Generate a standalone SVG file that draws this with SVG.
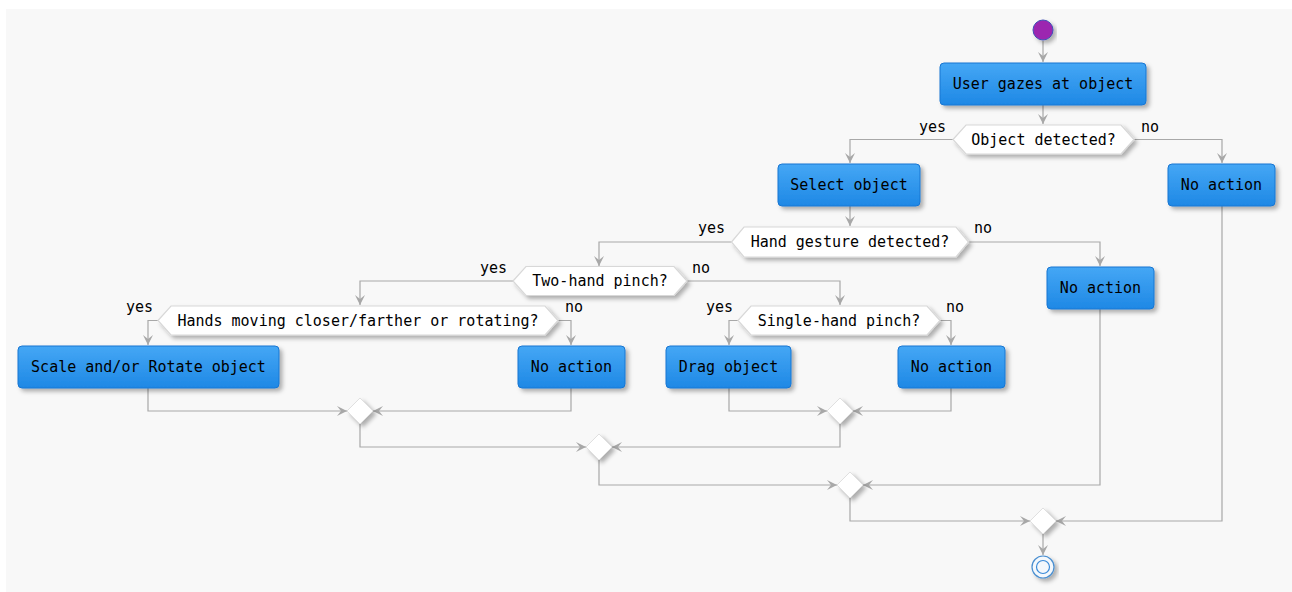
<svg xmlns="http://www.w3.org/2000/svg" width="1292" height="592" viewBox="0 0 1292 592">
<defs>
<linearGradient id="blue" x1="0" y1="0" x2="0" y2="1">
<stop offset="0" stop-color="#45A7F5"/>
<stop offset="1" stop-color="#1E88E5"/>
</linearGradient>
<filter id="sh" x="-20%" y="-30%" width="140%" height="170%">
<feDropShadow dx="3" dy="3" stdDeviation="2" flood-color="#000" flood-opacity="0.3"/>
</filter>
<marker id="arr" viewBox="0 0 10 10" refX="10" refY="5" markerWidth="10" markerHeight="10" markerUnits="userSpaceOnUse" orient="auto">
<path d="M0,0 L10,5 L0,10 L4,5 Z" fill="#A8A8A8"/>
</marker>
</defs>
<style>
.box{fill:url(#blue);stroke:#1976D2;stroke-width:1;filter:url(#sh)}
.hex{fill:#FFFFFF;stroke:#D8D8D8;stroke-width:1.2;filter:url(#sh)}
.merge{fill:#FFFFFF;stroke:#E0E0E0;stroke-width:1;filter:url(#sh)}
.t{font-family:"DejaVu Sans Mono","Liberation Mono",monospace;font-size:15px;fill:#000;text-anchor:middle}
.l{font-family:"DejaVu Sans Mono","Liberation Mono",monospace;font-size:15px;fill:#000}
.c{fill:none;stroke:#A8A8A8;stroke-width:1.2;marker-end:url(#arr)}
</style>
<rect x="6" y="9" width="1286" height="583" fill="#F8F8F8"/>

<g id="connectors">
<path class="c" d="M1043,41 V62"/>
<path class="c" d="M1043,105 V124"/>
<path class="c" d="M953,139.5 H850 V163"/>
<path class="c" d="M1134,139.5 H1222 V163"/>
<path class="c" d="M850,206 V226"/>
<path class="c" d="M731.5,242 H599 V266"/>
<path class="c" d="M968.5,242 H1100 V266"/>
<path class="c" d="M513,281 H360 V305"/>
<path class="c" d="M687,281 H840 V305"/>
<path class="c" d="M158,320.5 H148 V345"/>
<path class="c" d="M558,320.5 H571 V345"/>
<path class="c" d="M738,320.5 H729 V345"/>
<path class="c" d="M940,320.5 H951 V345"/>
<path class="c" d="M148,388 V411 H347"/>
<path class="c" d="M571,388 V411 H373"/>
<path class="c" d="M729,388 V411 H827"/>
<path class="c" d="M951,388 V411 H853"/>
<path class="c" d="M360,424 V447 H586"/>
<path class="c" d="M840,424 V447 H612"/>
<path class="c" d="M599,460 V485 H837"/>
<path class="c" d="M1100,309 V485 H863"/>
<path class="c" d="M850,498 V521 H1030"/>
<path class="c" d="M1222,206 V521 H1056"/>
<path class="c" d="M1043,534 V555"/>
<text class="l" x="946" y="132" text-anchor="end">yes</text>
<text class="l" x="1141" y="132">no</text>
<text class="l" x="725" y="233" text-anchor="end">yes</text>
<text class="l" x="974" y="233">no</text>
<text class="l" x="507" y="273" text-anchor="end">yes</text>
<text class="l" x="692" y="273">no</text>
<text class="l" x="153" y="312" text-anchor="end">yes</text>
<text class="l" x="565" y="312">no</text>
<text class="l" x="733" y="312" text-anchor="end">yes</text>
<text class="l" x="946" y="312">no</text>
</g>

<g id="start"><circle cx="1043" cy="30" r="10" fill="#9C27B0" stroke="#3F51B5" stroke-width="1" filter="url(#sh)"/></g>

<g id="n1"><rect class="box" x="940" y="63" width="206" height="42" rx="4"/><text class="t" x="1043" y="89">User gazes at object</text></g>
<g id="d1"><polygon class="hex" points="953,139.5 966,125 1121,125 1134,139.5 1121,154 966,154"/><text class="t" x="1043.5" y="144.5">Object detected?</text></g>
<g id="n2"><rect class="box" x="778" y="164" width="142" height="42" rx="4"/><text class="t" x="849" y="190">Select object</text></g>
<g id="n3"><rect class="box" x="1168" y="164" width="107" height="42" rx="4"/><text class="t" x="1221.5" y="190">No action</text></g>
<g id="d2"><polygon class="hex" points="731.5,242 744,227 956,227 968.5,242 956,257 744,257"/><text class="t" x="850" y="247">Hand gesture detected?</text></g>
<g id="n4"><rect class="box" x="1047" y="267" width="107" height="42" rx="4"/><text class="t" x="1100.5" y="293">No action</text></g>
<g id="d3"><polygon class="hex" points="513,281 526,266.5 674,266.5 687,281 674,295.5 526,295.5"/><text class="t" x="600" y="286">Two-hand pinch?</text></g>
<g id="d4"><polygon class="hex" points="158,320.5 171,306 545,306 558,320.5 545,335 171,335"/><text class="t" x="358" y="325.5">Hands moving closer/farther or rotating?</text></g>
<g id="d5"><polygon class="hex" points="738,320.5 751,306 927,306 940,320.5 927,335 751,335"/><text class="t" x="839" y="325.5">Single-hand pinch?</text></g>
<g id="n5"><rect class="box" x="18" y="346" width="261" height="42" rx="4"/><text class="t" x="148.5" y="372">Scale and/or Rotate object</text></g>
<g id="n6"><rect class="box" x="518" y="346" width="107" height="42" rx="4"/><text class="t" x="571.5" y="372">No action</text></g>
<g id="n7"><rect class="box" x="666" y="346" width="125" height="42" rx="4"/><text class="t" x="728.5" y="372">Drag object</text></g>
<g id="n8"><rect class="box" x="898" y="346" width="107" height="42" rx="4"/><text class="t" x="951.5" y="372">No action</text></g>

<g id="m1"><polygon class="merge" points="360,398 373,411 360,424 347,411"/></g>
<g id="m2"><polygon class="merge" points="840,398 853,411 840,424 827,411"/></g>
<g id="m3"><polygon class="merge" points="599,434 612,447 599,460 586,447"/></g>
<g id="m4"><polygon class="merge" points="850,472 863,485 850,498 837,485"/></g>
<g id="m5"><polygon class="merge" points="1043,508 1056,521 1043,534 1030,521"/></g>

<g id="end"><circle cx="1043" cy="567" r="11" fill="#F4F8FC" stroke="#4A8FD0" stroke-width="1.2" filter="url(#sh)"/><circle cx="1043" cy="567" r="6.5" fill="none" stroke="#3A8AD8" stroke-width="1.2"/></g>
</svg>
